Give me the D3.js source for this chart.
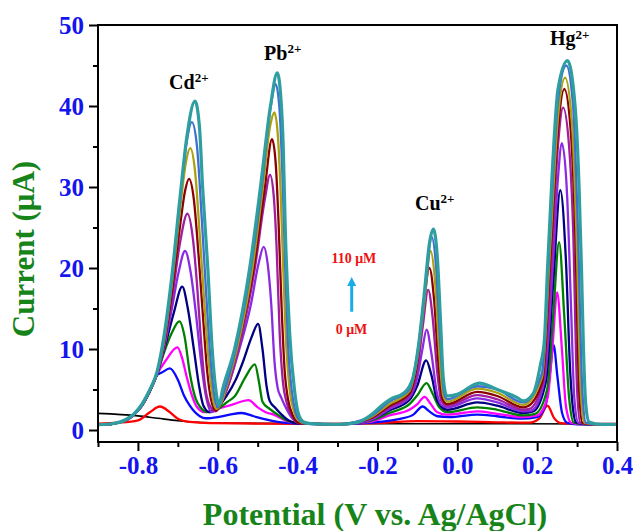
<!DOCTYPE html>
<html>
<head>
<meta charset="utf-8">
<script src="https://cdn.jsdelivr.net/npm/d3@7"></script>
<style>
  body { margin: 0; background: #fff; }
  text { font-family: "Liberation Serif", "Times New Roman", serif; font-weight: bold; }
</style>
</head>
<body>
<div id="chart"></div>
<script>
// potential (V) / current (uA) pairs, one array per concentration
var blank = [[-0.9,2.05],[-0.8,1.75],[-0.75,1.45],[-0.7,1.15],[-0.65,0.95],[-0.6,0.88],[-0.5,0.82],[-0.3,0.78],[0.0,0.78],[0.4,0.75]];

var c0 = [[-0.9,0.8],[-0.85,0.9],[-0.8,1.2],[-0.77,2.2],[-0.745,2.9],[-0.72,2.2],[-0.7,1.4],[-0.67,1.0],[-0.62,0.85],[-0.5,0.8],[-0.35,0.75],[-0.2,0.85],[-0.1,1.1],[0.0,1.05],[0.1,0.95],[0.18,0.9],[0.205,1.4],[0.226,3.0],[0.242,1.5],[0.26,0.85],[0.3,0.75],[0.4,0.75]];

var c1 = [[-0.9,0.65],[-0.86,0.8],[-0.83,1.2],[-0.81,1.9],[-0.79,3.0],[-0.77,4.8],[-0.752,6.8],[-0.74,7.1],[-0.72,7.6],[-0.70,6.2],[-0.685,4.3],[-0.67,3.0],[-0.645,1.7],[-0.63,1.45],[-0.6,1.6],[-0.57,1.9],[-0.54,2.1],[-0.51,1.7],[-0.48,1.3],[-0.45,1.0],[-0.4,0.8],[-0.3,0.7],[-0.22,0.9],[-0.15,1.3],[-0.11,1.9],[-0.087,2.9],[-0.07,2.3],[-0.05,1.7],[-0.02,1.6],[0.05,1.9],[0.1,1.7],[0.16,1.4],[0.2,1.6],[0.222,3.2],[0.232,7.0],[0.241,10.5],[0.251,6.5],[0.262,2.2],[0.275,0.9],[0.3,0.7],[0.4,0.7]];

var c2 = [[-0.9,0.65],[-0.86,0.8],[-0.83,1.2],[-0.81,1.9],[-0.79,3.0],[-0.77,4.8],[-0.752,6.9],[-0.73,8.6],[-0.701,10.2],[-0.69,9.0],[-0.678,6.6],[-0.665,4.3],[-0.653,2.9],[-0.633,2.2],[-0.6,2.6],[-0.56,3.2],[-0.523,3.7],[-0.5,2.8],[-0.48,2.2],[-0.46,1.9],[-0.42,1.0],[-0.38,0.8],[-0.3,0.7],[-0.22,1.0],[-0.17,1.8],[-0.12,2.5],[-0.1,3.2],[-0.082,4.1],[-0.068,3.3],[-0.05,2.2],[-0.025,1.9],[0.05,2.3],[0.1,2.0],[0.165,1.6],[0.2,1.8],[0.226,4.0],[0.238,10.0],[0.25,17.0],[0.262,10.0],[0.272,3.0],[0.285,0.9],[0.31,0.7],[0.4,0.7]];

var c3 = [[-0.9,0.65],[-0.86,0.8],[-0.83,1.2],[-0.81,1.9],[-0.79,3.0],[-0.77,4.8],[-0.752,6.9],[-0.735,9.5],[-0.715,12.0],[-0.696,13.4],[-0.683,11.5],[-0.67,7.0],[-0.655,3.8],[-0.645,2.9],[-0.625,2.2],[-0.6,2.6],[-0.575,3.5],[-0.557,4.2],[-0.53,6.6],[-0.507,8.1],[-0.497,6.0],[-0.488,3.5],[-0.47,2.6],[-0.456,2.1],[-0.435,1.4],[-0.416,1.0],[-0.38,0.8],[-0.3,0.7],[-0.22,1.1],[-0.17,2.1],[-0.12,3.2],[-0.1,4.3],[-0.077,5.8],[-0.062,4.5],[-0.045,2.8],[-0.025,2.2],[0.05,2.8],[0.1,2.5],[0.165,1.8],[0.195,2.0],[0.225,5.0],[0.24,14.0],[0.255,23.2],[0.268,14.0],[0.28,4.0],[0.292,0.9],[0.32,0.7],[0.4,0.7]];

var c4 = [[-0.9,0.65],[-0.86,0.8],[-0.83,1.2],[-0.81,1.9],[-0.79,3.0],[-0.77,4.8],[-0.752,6.9],[-0.735,9.8],[-0.71,14.5],[-0.689,17.7],[-0.675,15.0],[-0.66,10.0],[-0.647,5.5],[-0.636,3.0],[-0.62,2.2],[-0.598,2.9],[-0.578,4.2],[-0.555,6.2],[-0.537,8.4],[-0.515,11.5],[-0.499,13.1],[-0.488,10.0],[-0.478,5.5],[-0.47,3.6],[-0.455,2.7],[-0.44,1.9],[-0.42,1.1],[-0.405,0.85],[-0.37,0.75],[-0.3,0.7],[-0.22,1.2],[-0.17,2.4],[-0.12,3.7],[-0.1,5.5],[-0.078,8.6],[-0.065,6.8],[-0.05,3.6],[-0.025,2.5],[0.05,3.4],[0.1,3.0],[0.165,2.1],[0.19,2.3],[0.222,6.0],[0.24,18.0],[0.258,29.6],[0.272,21.0],[0.283,7.0],[0.29,2.5],[0.298,0.9],[0.33,0.7],[0.4,0.7]];

var c5 = [[-0.9,0.65],[-0.86,0.8],[-0.83,1.2],[-0.81,1.9],[-0.79,3.0],[-0.77,4.8],[-0.752,7.0],[-0.735,10.0],[-0.715,15.0],[-0.698,19.5],[-0.682,22.1],[-0.668,19.5],[-0.655,14.5],[-0.642,8.5],[-0.63,4.3],[-0.615,2.2],[-0.598,3.0],[-0.578,5.0],[-0.547,9.8],[-0.517,15.5],[-0.498,20.5],[-0.485,22.6],[-0.475,20.5],[-0.466,15.5],[-0.458,8.5],[-0.45,5.2],[-0.441,4.0],[-0.43,2.8],[-0.416,1.6],[-0.395,0.85],[-0.36,0.75],[-0.3,0.7],[-0.22,1.2],[-0.17,2.6],[-0.12,4.0],[-0.1,6.5],[-0.088,9.8],[-0.077,12.4],[-0.065,9.5],[-0.052,4.8],[-0.04,3.1],[-0.025,2.8],[0.05,3.9],[0.1,3.4],[0.165,2.3],[0.185,2.4],[0.218,6.0],[0.24,21.0],[0.252,31.0],[0.262,35.4],[0.275,29.0],[0.285,15.0],[0.293,4.0],[0.303,0.9],[0.34,0.7],[0.4,0.7]];

var c6 = [[-0.9,0.65],[-0.86,0.8],[-0.83,1.2],[-0.81,1.9],[-0.79,3.0],[-0.77,4.8],[-0.752,7.0],[-0.735,10.2],[-0.715,16.0],[-0.695,23.0],[-0.676,26.7],[-0.662,23.5],[-0.652,18.0],[-0.642,11.0],[-0.632,5.5],[-0.62,3.0],[-0.605,2.3],[-0.59,3.5],[-0.575,5.3],[-0.548,10.0],[-0.507,20.0],[-0.482,28.5],[-0.469,31.5],[-0.46,29.0],[-0.453,23.0],[-0.445,12.0],[-0.437,6.0],[-0.428,3.5],[-0.415,1.8],[-0.395,0.85],[-0.36,0.75],[-0.3,0.7],[-0.22,1.3],[-0.17,2.8],[-0.12,4.3],[-0.1,7.5],[-0.086,13.0],[-0.073,17.3],[-0.062,14.0],[-0.05,7.0],[-0.04,3.6],[-0.025,3.0],[0.05,4.3],[0.1,3.8],[0.165,2.5],[0.18,2.6],[0.215,6.0],[0.236,21.0],[0.252,35.0],[0.265,39.8],[0.28,35.0],[0.29,25.0],[0.3,5.0],[0.308,0.9],[0.34,0.7],[0.4,0.7]];

var c7 = [[-0.9,0.65],[-0.86,0.8],[-0.83,1.2],[-0.81,1.9],[-0.79,3.0],[-0.77,4.8],[-0.752,7.0],[-0.735,10.5],[-0.715,17.0],[-0.695,25.0],[-0.682,29.5],[-0.672,31.0],[-0.66,28.5],[-0.648,21.5],[-0.637,14.0],[-0.627,7.5],[-0.617,3.8],[-0.605,2.4],[-0.592,3.3],[-0.58,5.0],[-0.552,10.0],[-0.51,20.0],[-0.482,30.0],[-0.464,35.9],[-0.455,33.0],[-0.448,26.0],[-0.44,15.0],[-0.432,7.0],[-0.424,3.8],[-0.412,1.8],[-0.395,0.85],[-0.36,0.75],[-0.3,0.7],[-0.22,1.4],[-0.17,3.0],[-0.12,4.5],[-0.1,8.5],[-0.085,15.0],[-0.07,20.0],[-0.058,16.0],[-0.047,8.0],[-0.037,3.8],[-0.025,3.2],[0.05,4.7],[0.1,4.2],[0.165,2.8],[0.175,2.9],[0.213,6.0],[0.234,22.0],[0.252,37.0],[0.268,42.1],[0.284,37.0],[0.295,25.0],[0.305,5.0],[0.313,0.9],[0.34,0.7],[0.4,0.7]];

var c8 = [[-0.9,0.65],[-0.86,0.8],[-0.83,1.2],[-0.81,1.9],[-0.79,3.0],[-0.77,4.9],[-0.752,7.1],[-0.735,10.8],[-0.715,18.0],[-0.695,27.0],[-0.68,33.0],[-0.669,34.8],[-0.657,32.0],[-0.645,24.0],[-0.632,14.5],[-0.621,7.5],[-0.612,3.8],[-0.603,2.6],[-0.59,3.5],[-0.58,5.0],[-0.552,10.0],[-0.513,20.0],[-0.487,30.0],[-0.469,37.5],[-0.458,39.2],[-0.449,36.0],[-0.443,30.0],[-0.436,20.0],[-0.428,10.0],[-0.42,5.0],[-0.41,2.4],[-0.4,1.3],[-0.38,0.8],[-0.3,0.7],[-0.22,1.5],[-0.17,3.2],[-0.12,4.8],[-0.1,9.0],[-0.082,16.0],[-0.067,22.1],[-0.056,18.5],[-0.045,9.5],[-0.035,4.2],[-0.025,3.5],[0.05,5.1],[0.1,4.6],[0.165,3.1],[0.212,6.5],[0.233,23.0],[0.252,38.5],[0.27,43.5],[0.287,38.0],[0.298,25.0],[0.309,5.0],[0.318,0.9],[0.345,0.7],[0.4,0.7]];

var c9 = [[-0.9,0.65],[-0.86,0.8],[-0.83,1.2],[-0.81,1.9],[-0.79,3.0],[-0.77,4.9],[-0.752,7.1],[-0.735,11.0],[-0.715,18.5],[-0.695,28.0],[-0.678,35.5],[-0.665,38.0],[-0.652,35.0],[-0.64,26.0],[-0.628,16.0],[-0.617,8.0],[-0.608,4.0],[-0.6,2.8],[-0.586,4.5],[-0.555,10.0],[-0.517,20.0],[-0.49,30.0],[-0.467,40.0],[-0.455,42.7],[-0.446,40.0],[-0.437,30.0],[-0.431,20.0],[-0.424,10.5],[-0.415,5.0],[-0.405,2.2],[-0.395,1.2],[-0.378,0.8],[-0.3,0.7],[-0.22,1.6],[-0.17,3.5],[-0.12,5.0],[-0.1,9.5],[-0.08,17.5],[-0.064,23.8],[-0.053,20.0],[-0.043,11.0],[-0.033,4.5],[-0.025,3.8],[0.05,5.4],[0.1,5.0],[0.165,3.4],[0.212,7.0],[0.232,24.0],[0.252,40.5],[0.273,45.0],[0.29,40.0],[0.302,25.0],[0.313,5.0],[0.322,0.9],[0.35,0.7],[0.4,0.7]];

var c10 = [[-0.9,0.65],[-0.86,0.8],[-0.83,1.3],[-0.81,2.0],[-0.79,3.2],[-0.77,5.0],[-0.752,7.2],[-0.735,11.5],[-0.715,19.0],[-0.695,28.5],[-0.678,36.0],[-0.657,40.6],[-0.646,37.5],[-0.638,30.0],[-0.625,20.0],[-0.614,10.0],[-0.605,5.0],[-0.597,3.1],[-0.588,5.0],[-0.558,10.0],[-0.52,20.0],[-0.493,30.0],[-0.468,40.0],[-0.451,44.1],[-0.442,41.0],[-0.436,35.0],[-0.431,25.0],[-0.42,12.0],[-0.408,5.0],[-0.398,2.0],[-0.385,1.0],[-0.36,0.75],[-0.3,0.7],[-0.25,0.95],[-0.21,2.1],[-0.19,3.0],[-0.168,3.8],[-0.133,4.6],[-0.112,6.3],[-0.097,10.5],[-0.082,17.2],[-0.07,23.0],[-0.06,24.8],[-0.05,21.3],[-0.042,13.4],[-0.035,6.3],[-0.026,4.2],[0.0,4.4],[0.055,5.8],[0.1,5.0],[0.15,4.0],[0.165,3.6],[0.19,4.5],[0.208,8.0],[0.218,11.0],[0.226,20.0],[0.238,32.0],[0.252,42.0],[0.276,45.6],[0.295,40.0],[0.305,30.0],[0.311,20.0],[0.316,10.0],[0.322,3.0],[0.33,1.0],[0.36,0.7],[0.4,0.7]];

var seriesList = [blank, c0, c1, c2, c3, c4, c5, c6, c7, c8, c9, c10];
var colors = ["#000000", "#ff0000", "#0a0aff", "#ff00ff", "#008000", "#000080", "#8a2be2", "#a01ea0", "#8b0000", "#aaa010", "#3f6fd0", "#2e9ea0"];
var widths = [1.6, 2.3, 2.3, 2.3, 2.3, 2.3, 2.3, 2.3, 2.3, 2.3, 2.3, 3.2];

var xMajor = [-0.8, -0.6, -0.4, -0.2, 0.0, 0.2, 0.4];
var xMinor = [-0.9, -0.7, -0.5, -0.3, -0.1, 0.1, 0.3];
var yMajor = [0, 10, 20, 30, 40, 50];
var yMinor = [5, 15, 25, 35, 45];

var svgWidth = 633;
var svgHeight = 531;
var margin = { top: 25, right: 16, bottom: 89, left: 98 };
var width = svgWidth - margin.left - margin.right;
var height = svgHeight - margin.top - margin.bottom;

var tickBlue = "#1414ee";
var titleGreen = "#17841a";

var svg = d3.select("#chart")
  .append("svg")
  .attr("width", svgWidth)
  .attr("height", svgHeight);

var chartGroup = svg.append("g")
  .attr("transform", `translate(${margin.left}, ${margin.top})`);

var xScale = d3.scaleLinear()
  .domain([-0.9, 0.4])
  .range([0, width]);

var yScale = d3.scaleLinear()
  .domain([-1.48, 50])
  .range([height, 0]);

// curves
var line = d3.line()
  .x(d => xScale(d[0]))
  .y(d => yScale(d[1]))
  .curve(d3.curveMonotoneX);

chartGroup.selectAll(".curve")
  .data(seriesList)
  .enter()
  .append("path")
  .attr("class", "curve")
  .attr("d", d => line(d))
  .attr("fill", "none")
  .attr("stroke", (d, i) => colors[i])
  .attr("stroke-width", (d, i) => widths[i])
  .attr("stroke-linejoin", "round");

// axes
var bottomMajor = d3.axisBottom(xScale).tickValues(xMajor).tickSize(9).tickSizeOuter(0)
  .tickFormat(d3.format(".1f"));
var bottomMinor = d3.axisBottom(xScale).tickValues(xMinor).tickSize(5).tickSizeOuter(0).tickFormat("");
var leftMajor = d3.axisLeft(yScale).tickValues(yMajor).tickSize(9).tickSizeOuter(0).tickFormat(d3.format("d"));
var leftMinor = d3.axisLeft(yScale).tickValues(yMinor).tickSize(5).tickSizeOuter(0).tickFormat("");

var gx = chartGroup.append("g").attr("transform", `translate(0, ${height})`).call(bottomMajor);
chartGroup.append("g").attr("transform", `translate(0, ${height})`).call(bottomMinor);
var gy = chartGroup.append("g").call(leftMajor);
chartGroup.append("g").call(leftMinor);

chartGroup.selectAll(".domain").remove();
chartGroup.selectAll(".tick line").attr("stroke", "#000").attr("stroke-width", 2);

gx.selectAll("text")
  .attr("fill", tickBlue)
  .style("font-size", "25px")
  .attr("y", 14)
  .attr("dy", "0.71em")
  .text(d => d3.format(".1f")(d).replace("\u2212", "-"));

gy.selectAll("text")
  .attr("fill", tickBlue)
  .style("font-size", "25px")
  .attr("x", -14)
  .attr("dy", "0.35em");

// frame
chartGroup.append("rect")
  .attr("width", width)
  .attr("height", height)
  .attr("fill", "none")
  .attr("stroke", "#000")
  .attr("stroke-width", 2);

// axis titles
svg.append("text")
  .attr("x", 375)
  .attr("y", 525)
  .attr("text-anchor", "middle")
  .attr("fill", titleGreen)
  .style("font-size", "32px")
  .text("Potential (V vs. Ag/AgCl)");

svg.append("text")
  .attr("transform", "translate(34, 249) rotate(-90)")
  .attr("text-anchor", "middle")
  .attr("fill", titleGreen)
  .style("font-size", "31px")
  .text("Current (\u03bcA)");

// peak labels
var peakNames = ["Cd", "Pb", "Cu", "Hg"];
var peakPos = [[-0.722, 42.1], [-0.484, 45.7], [-0.106, 27.2], [0.232, 47.5]];

peakNames.forEach((name, i) => {
  var t = chartGroup.append("text")
    .attr("x", xScale(peakPos[i][0]))
    .attr("y", yScale(peakPos[i][1]))
    .attr("fill", "#000")
    .style("font-size", "20px");
  t.append("tspan").text(name);
  t.append("tspan")
    .attr("dy", "-0.5em")
    .style("font-size", "13px")
    .text("2+");
});

// concentration arrow
chartGroup.append("text")
  .attr("x", xScale(-0.259))
  .attr("y", yScale(20.6))
  .attr("text-anchor", "middle")
  .attr("fill", "#ee1111")
  .style("font-size", "14px")
  .text("110 \u03bcM");

chartGroup.append("text")
  .attr("x", xScale(-0.265))
  .attr("y", yScale(11.85))
  .attr("text-anchor", "middle")
  .attr("fill", "#ee1111")
  .style("font-size", "14px")
  .text("0 \u03bcM");

var ax = xScale(-0.2645);
var yTop = yScale(18.9);
var yBot = yScale(14.6);
chartGroup.append("line")
  .attr("x1", ax).attr("x2", ax)
  .attr("y1", yBot).attr("y2", yTop + 7)
  .attr("stroke", "#19ade6")
  .attr("stroke-width", 3);
chartGroup.append("path")
  .attr("d", `M${ax},${yTop} L${ax - 4.5},${yTop + 9} L${ax + 4.5},${yTop + 9} Z`)
  .attr("fill", "#19ade6");
</script>
</body>
</html>
